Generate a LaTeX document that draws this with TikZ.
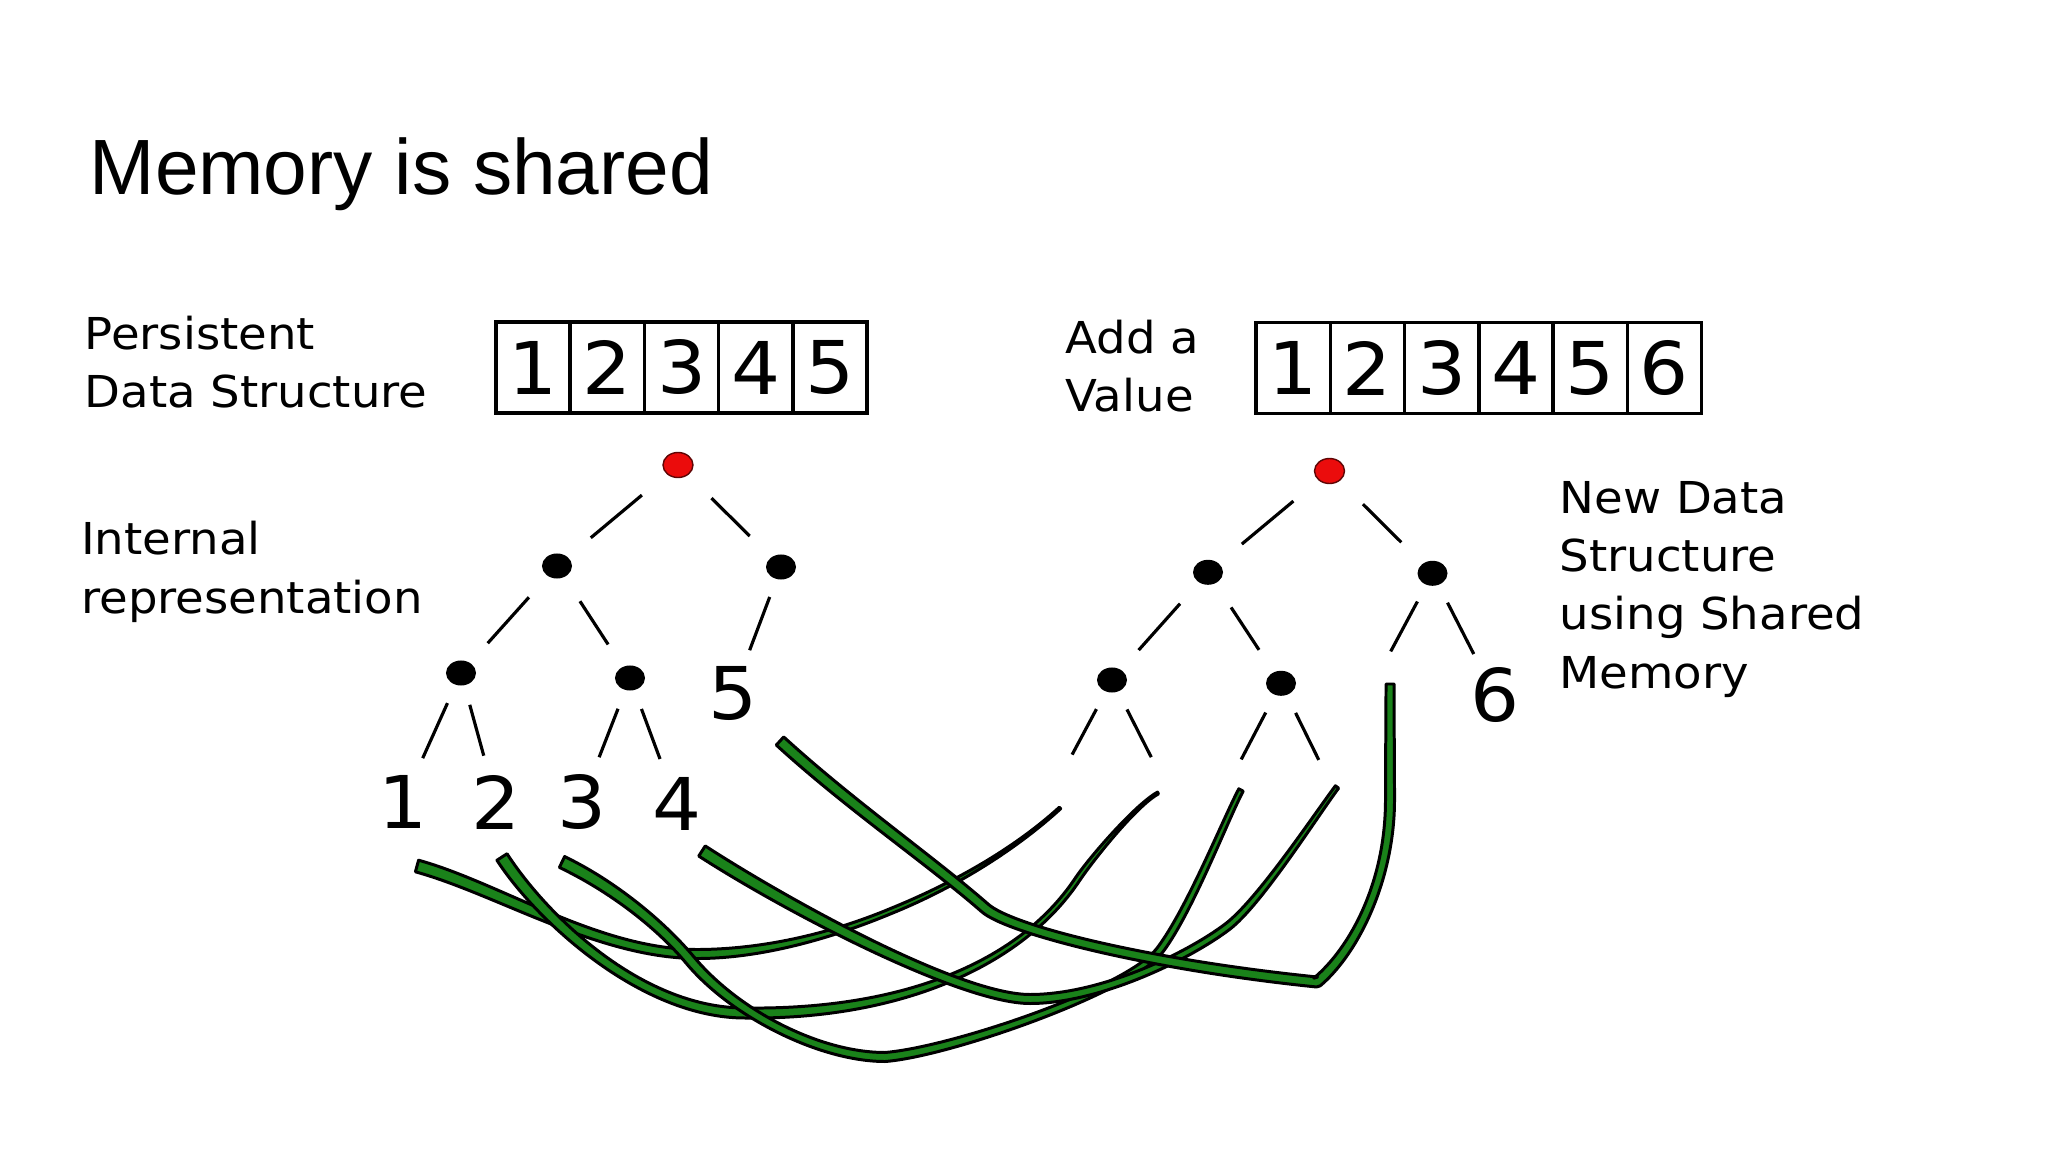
\documentclass[tikz,border=0pt]{standalone}
\usepackage{fontspec}
\setmainfont{Liberation Sans}
\newfontfamily\dejavu[FakeStretch=1.06]{DejaVu Sans}
\usetikzlibrary{positioning, calc, shapes.geometric}
\definecolor{sharegreen}{RGB}{26,130,26}
\definecolor{rootred}{RGB}{235,12,12}
\newcommand{\labelfont}{\dejavu\fontsize{12.5}{16.6}\selectfont}
\newcommand{\digitfont}{\dejavu\fontsize{20.7}{24}\selectfont}
% one green strand, as a filled band that thins out: P/bx/by/cx/cy/Q/start width/end width
\newcommand{\ribbon}[1]{%
  \gdef\fwdpath{}\gdef\revpath{}%
  \foreach \p/\bx/\by/\cx/\cy/\q/\wa/\wb [count=\k] in {#1}{%
    \pgfmathsetmacro\ha{(\wa-3)*0.1423}%
    \pgfmathsetmacro\hb{(\wb-3)*0.1423}%
    \xdef\fwdpath{\fwdpath \ifnum\k>1 --\fi ($(\p)!\ha pt!90:(\bx,\by)$) .. controls ($(\bx,\by)!\ha pt!-90:(\p)$) and ($(\cx,\cy)!\hb pt!90:(\q)$) .. ($(\q)!\hb pt!-90:(\cx,\cy)$)}%
    \xdef\revpath{-- ($(\q)!\hb pt!90:(\cx,\cy)$) .. controls ($(\cx,\cy)!\hb pt!-90:(\q)$) and ($(\bx,\by)!\ha pt!90:(\p)$) .. ($(\p)!\ha pt!-90:(\bx,\by)$) \revpath}%
  }%
  \filldraw[strand] \fwdpath \revpath -- cycle;
}

\begin{document}
\begin{tikzpicture}[x=0.01cm, y=-0.01cm,
  cell/.style={draw, line width=1pt, minimum width=7.42mm, minimum height=9.1mm, inner sep=0pt, outer sep=0pt, font=\digitfont},
  dot/.style={ellipse, fill=black, minimum width=3mm, minimum height=2.5mm, inner sep=0pt},
  rootdot/.style={dot, fill=rootred, draw=black!60!rootred, line width=0.4pt},
  leaf/.style={inner sep=0pt, font=\digitfont},
  note/.style={align=left, anchor=base west, inner sep=0pt, font=\labelfont},
  branch/.style={line width=0.9pt},
  strand/.style={fill=sharegreen, draw=black, line width=0.85pt, line join=round}]

\useasboundingbox[fill=white] (0,0) rectangle (2048,1152);

\node[anchor=base west, inner sep=0pt, font=\fontsize{22.3}{26}\selectfont] (title) at (89,195) {Memory is shared};

% side texts (anchored at the baseline of their last line)
\node[note] (persist) at (84,407.7) {Persistent\\Data Structure};
\node[note] (internal) at (80.5,613.3) {Internal\\representation};
\node[note] (addval) at (1065,411.7) {Add a\\Value};
\node[note] (newds) at (1559,688.3) {New Data\\Structure\\using Shared\\Memory};

% the two arrays
\node[cell] (p1) at (533.1,367.5) {1};
\foreach \i [count=\j from 1] in {2,...,5}
  \node[cell, right=0pt of p\j] (p\i) {\i};
\node[cell] (q1) at (1293.2,368) {1};
\foreach \i [count=\j from 1] in {2,...,6}
  \node[cell, right=0pt of q\j] (q\i) {\i};

% old tree
\node[rootdot] (lroot) at (678,465) {};
\node[dot] (la) at (557,566) {};
\node[dot] (lb) at (781,567) {};
\node[dot] (lc) at (461,673) {};
\node[dot] (ld) at (630,678) {};
\node[leaf] (n5) at (733.4,693.3) {5};
\node[leaf] (n1) at (403,802) {1};
\node[leaf] (n2) at (496.5,802) {2};
\node[leaf] (n3) at (581.7,802) {3};
\node[leaf] (n4) at (676.7,804) {4};

% new tree
\node[rootdot] (rroot) at (1329.5,471) {};
\node[dot] (ra) at (1208,572.3) {};
\node[dot] (rb) at (1432.5,573.3) {};
\node[dot] (rc) at (1112,680) {};
\node[dot] (rd) at (1281,683.3) {};
\node[leaf] (n6) at (1494.7,695) {6};
\foreach \n/\x/\y in {rk1/1049.5/797, rk2/1173/800, rk3/1219/802, rk4/1340/803, rk5/1369/692}
  \coordinate (\n) at (\x,\y);

\foreach \u/\v/\s/\e/\dy in {lroot/la/4.7mm/4.4mm/0.8mm, lroot/lb/4.7mm/4.4mm/0.8mm,
    rroot/ra/4.7mm/4.4mm/0.8mm, rroot/rb/4.7mm/4.4mm/0.8mm,
    la/lc/4.2mm/4mm/0mm, la/ld/4.2mm/4mm/0mm, ra/rc/4.2mm/4mm/0mm, ra/rd/4.2mm/4mm/0mm,
    lb/n5/3.2mm/4.6mm/0mm, rb/rk5/3.2mm/4.6mm/0mm, rb/n6/3.3mm/4.6mm/0mm,
    lc/n1/3.3mm/4.8mm/0mm, lc/n2/3.3mm/4.8mm/0mm, ld/n3/3.3mm/4.8mm/0mm, ld/n4/3.3mm/4.8mm/0mm,
    rc/rk1/3.3mm/4.8mm/0mm, rc/rk2/3.3mm/4.8mm/0mm, rd/rk3/3.3mm/4.8mm/0mm, rd/rk4/3.3mm/4.8mm/0mm}
  \draw[branch, yshift=\dy] ($(\u)!\s!(\v)$) -- ($(\v)!\e!(\u)$);

% shared strands
\foreach \n/\x/\y in {g1a/417/866, g1b/700/954, g1c/891/911, g1d/1060/808,
    g2a/502/857, g2b/745/1013, g2c/1077/880, g2d/1158/793,
    g3a/562/862, g3b/690/960, g3c/885/1057, g3d/1160/950, g3e/1241/790,
    g4a/702/851, g4b/1030/999, g4c/1227/927, g4d/1337/787,
    g5a/780/741, g5b/985/908, g5c/1317/982, g5d/1390/800, g5e/1390/684}
  \coordinate (\n) at (\x,\y);

\ribbon{g1a/500/889/600/955/g1b/15/12, g1b/760/953.5/827.5/937.5/g1c/12/8, g1c/955/885/1015/849/g1d/8/5}
\ribbon{g2a/540/916/640/1013/g2b/15/13, g2b/900/1015/1020/965/g2c/13/8, g2c/1091/859/1136/805/g2d/8/5}
\ribbon{g3a/612/886/660/924/g3b/15/13, g3b/735/1014/820/1057/g3c/13/12, g3c/950/1052/1130/990/g3d/12/10, g3d/1190/910/1226/818/g3e/10/8}
\ribbon{g4a/787/906/960/999/g4b/15/12, g4b/1100/999/1187/957/g4c/12/10, g4c/1259/903/1316/815/g4d/10/7}
\ribbon{g5a/850/805/930/860/g5b/14/13, g5b/1010/930/1150/965/g5c/13/13, g5c/1355/950/1390/880/g5d/13/12, g5d/1390/760/1390/720/g5e/12/11}
\end{tikzpicture}
\end{document}
